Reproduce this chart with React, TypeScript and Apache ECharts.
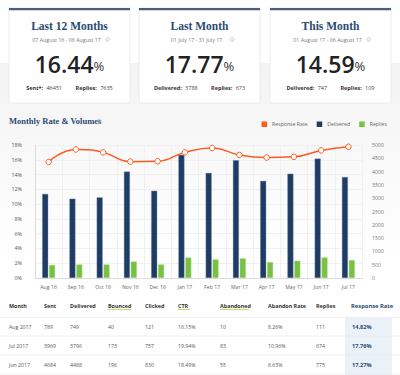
import React, { useEffect, useRef } from "react";
import * as echarts from "echarts";

// ---- chart data ----
const months = ["Aug 16", "Sep 16", "Oct 16", "Nov 16", "Dec 16", "Jan 17", "Feb 17", "Mar 17", "Apr 17", "May 17", "Jun 17", "Jul 17"];
const responseRate = [15.7, 17.4, 17.0, 15.75, 15.8, 17.0, 17.6, 16.65, 16.3, 16.4, 17.27, 17.76];
const delivered = [3160, 2980, 3030, 4000, 3280, 4630, 3950, 4430, 3650, 3920, 4488, 3796];
const replies = [490, 510, 510, 620, 510, 770, 700, 740, 600, 650, 775, 674];

// ---- cards ----
const cardTitles = ["Last 12 Months", "Last Month", "This Month"];
const cardRanges = ["07 August 16 - 06 August 17", "01 July 17 - 31 July 17", "01 August 17 - 06 August 17"];
const cardRates = ["16.44", "17.77", "14.59"];
const cardStat1Labels = ["Sent*:", "Delivered:", "Delivered:"];
const cardStat1Values = ["46451", "3788", "747"];
const cardStat2Values = ["7635", "673", "109"];

// ---- table ----
const tableHeaders = ["Month", "Sent", "Delivered", "Bounced", "Clicked", "CTR", "Abandoned", "Abandon Rate", "Replies", "Response Rate"];
const rowMonths = ["Aug 2017", "Jul 2017", "Jun 2017"];
const rowSent = ["789", "3969", "4684"];
const rowDelivered = ["749", "3796", "4488"];
const rowBounced = ["40", "173", "196"];
const rowClicked = ["121", "757", "830"];
const rowCTR = ["16.15%", "19.94%", "18.49%"];
const rowAbandoned = ["10", "83", "55"];
const rowAbandonRate = ["8.26%", "10.96%", "6.63%"];
const rowReplies = ["111", "674", "775"];
const rowResponseRate = ["14.82%", "17.76%", "17.27%"];

const SANS = "'Open Sans', 'Noto Sans', sans-serif";
const SERIF = "'Liberation Serif', 'DejaVu Serif', serif";
const NAVY = "#2b4a72";
const ORANGE = "#ff5a1f";
const DARK = "#1f3d64";
const GREEN = "#79c142";

function infoIcon(x: number, y: number, r: number) {
  return [
    { type: "circle", shape: { cx: x, cy: y, r }, style: { fill: "none", stroke: "#aaa", lineWidth: 0.6 } },
    { type: "text", x, y, style: { text: "i", fontSize: r * 1.5, fill: "#aaa", align: "center", verticalAlign: "middle", fontFamily: SANS } },
  ];
}

export default function App() {
  const ref = useRef<HTMLDivElement>(null);
  useEffect(() => {
    if (!ref.current) return;
    const chart = echarts.init(ref.current, null, { renderer: "svg" });
    const graphics: any[] = [];

    // backgrounds
    graphics.push({ type: "rect", shape: { x: 0, y: 0, width: 400, height: 375 }, style: { fill: "#ffffff" }, z: -10 });
    graphics.push({
      type: "rect", shape: { x: 0, y: 63, width: 400, height: 200 }, z: -9,
      style: {
        fill: new echarts.graphic.LinearGradient(0, 0, 0, 1, [
          { offset: 0, color: "#f3f3f4" },
          { offset: 0.25, color: "#f6f6f7" },
          { offset: 1, color: "#ffffff" },
        ]),
      },
    });

    // cards
    const cardX = [9, 139, 270];
    const cardW = 121;
    cardX.forEach((cx, i) => {
      const mid = cx + cardW / 2;
      graphics.push({ type: "rect", shape: { x: cx, y: 8, width: cardW, height: 95 }, style: { fill: "#fff", stroke: "#e6e6e8", lineWidth: 0.8 }, z: -5 });
      graphics.push({ type: "rect", shape: { x: cx, y: 8, width: cardW, height: 2.2 }, style: { fill: "#4d5e76" }, z: -4 });
      graphics.push({ type: "text", x: mid, y: 26, style: { text: cardTitles[i], fontSize: 11.5, fontWeight: "bold", fontFamily: SERIF, fill: NAVY, align: "center", verticalAlign: "middle" } });
      graphics.push({ type: "text", x: mid - 3, y: 39.5, style: { text: cardRanges[i], fontSize: 5.3, fontFamily: SANS, fill: "#777", align: "center", verticalAlign: "middle" } });
      const rw = cardRanges[i].length * 2.75;
      graphics.push(...infoIcon(mid - 3 + rw / 2 + 4, 39.5, 1.8));
      graphics.push({
        type: "text", x: mid, y: 63.5,
        style: {
          text: `{a|${cardRates[i]}}{b|%}`, align: "center", verticalAlign: "middle",
          rich: {
            a: { fontSize: 23, fontFamily: SANS, fontWeight: 600, fill: "#222" },
            b: { fontSize: 13, fontFamily: SANS, fill: "#333", padding: [5, 0, 0, 0] },
          },
        },
      });
      graphics.push({
        type: "text", x: mid, y: 88,
        style: {
          text: `{l|${cardStat1Labels[i]}} {v|${cardStat1Values[i]}}    {l|Replies:} {v|${cardStat2Values[i]}}`,
          align: "center", verticalAlign: "middle",
          rich: {
            l: { fontSize: 5.5, fontFamily: SANS, fontWeight: "bold", fill: "#333" },
            v: { fontSize: 5.5, fontFamily: SANS, fill: "#444" },
          },
        },
      });
    });

    // chart title
    graphics.push({ type: "text", x: 9, y: 121, style: { text: "Monthly Rate & Volumes", fontSize: 8.5, fontWeight: "bold", fontFamily: SERIF, fill: NAVY, verticalAlign: "middle" } });
    graphics.push(...infoIcon(99, 121, 2));

    // table
    const colX = [9, 44, 70, 108, 145, 178, 220, 268, 316, 351];
    graphics.push({ type: "rect", shape: { x: 345, y: 317.5, width: 47, height: 57.5 }, style: { fill: "#eaf1f8" }, z: -3 });
    tableHeaders.forEach((h, i) => {
      const last = i === tableHeaders.length - 1;
      graphics.push({
        type: "text", x: colX[i], y: 305.5,
        style: { text: h, fontSize: last ? 5.8 : 5.4, fontWeight: "bold", fontFamily: SANS, fill: last ? NAVY : "#333", verticalAlign: "middle" },
      });
    });
    const underlines: [number, number][] = [[108, 23], [178, 12], [220, 29]];
    underlines.forEach(([x, w]) => {
      graphics.push({ type: "line", shape: { x1: x, y1: 309.5, x2: x + w, y2: 309.5 }, style: { stroke: "#c5d84e", lineWidth: 0.9 } });
    });
    [317.5, 336, 355, 374].forEach((y) => {
      graphics.push({ type: "line", shape: { x1: 0, y1: y, x2: 400, y2: y }, style: { stroke: "#ececee", lineWidth: 0.8 }, z: -2 });
    });
    const cols = [rowMonths, rowSent, rowDelivered, rowBounced, rowClicked, rowCTR, rowAbandoned, rowAbandonRate, rowReplies, rowResponseRate];
    const rowY = [327, 345.7, 364.5];
    rowY.forEach((y, r) => {
      cols.forEach((col, c) => {
        const last = c === cols.length - 1;
        graphics.push({
          type: "text", x: colX[c] + (last ? 1 : 0), y,
          style: { text: col[r], fontSize: last ? 5.6 : 5.2, fontWeight: last ? "bold" : "normal", fontFamily: SANS, fill: last ? NAVY : "#555", verticalAlign: "middle" },
        });
      });
    });

    chart.setOption({
      animation: false,
      textStyle: { fontFamily: SANS },
      graphic: graphics,
      legend: {
        right: 8, top: 116.5, itemWidth: 5.5, itemHeight: 5.5, itemGap: 9, icon: "rect",
        textStyle: { fontSize: 5.2, color: "#666", fontFamily: SANS },
        itemStyle: { borderWidth: 0 },
        lineStyle: { width: 0, opacity: 0 },
        data: [
          { name: "Response Rate", icon: "rect", itemStyle: { color: ORANGE, borderWidth: 0 }, lineStyle: { width: 0, opacity: 0 } },
          { name: "Delivered", itemStyle: { color: DARK, borderWidth: 0 } },
          { name: "Replies", itemStyle: { color: GREEN, borderWidth: 0 } },
        ],
      },
      grid: { left: 35, right: 38, top: 145, bottom: 97 },
      xAxis: {
        type: "category", data: months, boundaryGap: true,
        axisLine: { lineStyle: { color: "#ddd" } },
        axisTick: { show: false },
        axisLabel: { fontSize: 5.2, color: "#666", margin: 6, fontFamily: SANS },
        splitLine: { show: true, lineStyle: { color: "#eeeeee", width: 0.8 } },
      },
      yAxis: [
        {
          type: "value", min: 0, max: 18, interval: 2,
          axisLine: { show: true, lineStyle: { color: "#ddd" } },
          axisTick: { show: false },
          axisLabel: { formatter: "{value}%", fontSize: 5.4, color: "#555", margin: 13, fontFamily: SANS },
          splitLine: { lineStyle: { color: "#eeeeee", width: 0.8 } },
        },
        {
          type: "value", min: 0, max: 5000, interval: 500,
          axisLine: { show: false }, axisTick: { show: false },
          axisLabel: { formatter: (v: number) => String(v), fontSize: 5.2, color: "#777", margin: 10, fontFamily: SANS },
          splitLine: { show: false },
        },
      ],
      series: [
        {
          name: "Delivered", type: "bar", yAxisIndex: 1, data: delivered, barWidth: 6, barGap: "15%",
          itemStyle: { color: DARK, borderColor: "#7f93ad", borderWidth: 0.4 },
        },
        {
          name: "Replies", type: "bar", yAxisIndex: 1, data: replies, barWidth: 6,
          itemStyle: { color: GREEN, borderColor: "#b9e09a", borderWidth: 0.4 },
        },
        {
          name: "Response Rate", type: "line", yAxisIndex: 0, data: responseRate, smooth: true,
          symbol: "circle", symbolSize: 5.5,
          lineStyle: { color: ORANGE, width: 1.5 },
          itemStyle: { color: "#ffffff", borderColor: ORANGE, borderWidth: 1 },
          z: 5,
        },
      ],
    } as any);
    return () => chart.dispose();
  }, []);
  return <div ref={ref} style={{ position: "absolute", left: 0, top: 0, width: 400, height: 375 }} />;
}
